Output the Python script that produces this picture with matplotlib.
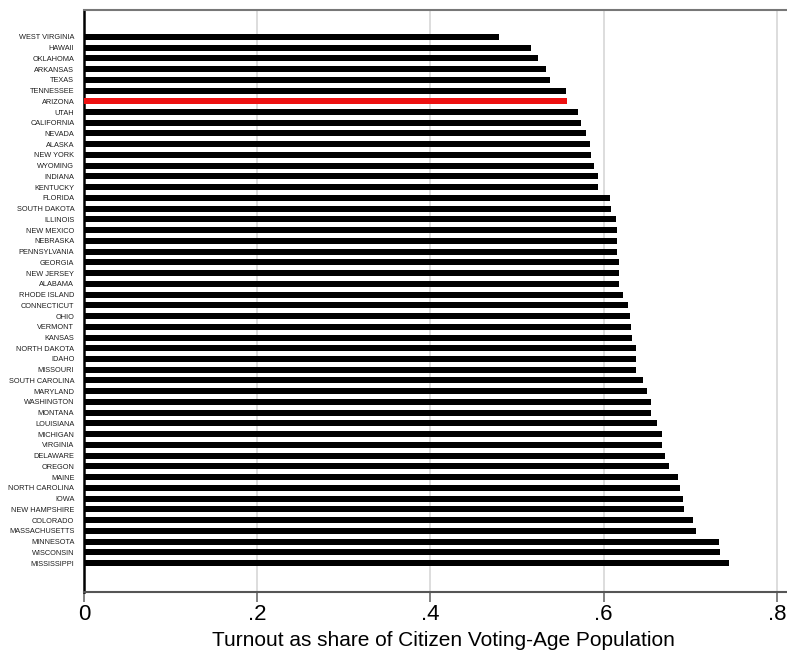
import matplotlib
matplotlib.use("Agg")
import matplotlib.pyplot as plt
import numpy as np

states = [
    "WEST VIRGINIA", "HAWAII", "OKLAHOMA", "ARKANSAS", "TEXAS", "TENNESSEE",
    "ARIZONA", "UTAH", "CALIFORNIA", "NEVADA", "ALASKA", "NEW YORK", "WYOMING",
    "INDIANA", "KENTUCKY", "FLORIDA", "SOUTH DAKOTA", "ILLINOIS", "NEW MEXICO",
    "NEBRASKA", "PENNSYLVANIA", "GEORGIA", "NEW JERSEY", "ALABAMA",
    "RHODE ISLAND", "CONNECTICUT", "OHIO", "VERMONT", "KANSAS", "NORTH DAKOTA",
    "IDAHO", "MISSOURI", "SOUTH CAROLINA", "MARYLAND", "WASHINGTON", "MONTANA",
    "LOUISIANA", "MICHIGAN", "VIRGINIA", "DELAWARE", "OREGON", "MAINE",
    "NORTH CAROLINA", "IOWA", "NEW HAMPSHIRE", "COLORADO", "MASSACHUSETTS",
    "MINNESOTA", "WISCONSIN", "MISSISSIPPI",
]
turnout = [
    0.479, 0.516, 0.524, 0.533, 0.538, 0.557,
    0.558, 0.570, 0.574, 0.580, 0.584, 0.586, 0.589,
    0.593, 0.593, 0.608, 0.609, 0.614, 0.616,
    0.616, 0.616, 0.618, 0.618, 0.618,
    0.623, 0.628, 0.630, 0.632, 0.633, 0.638,
    0.638, 0.638, 0.646, 0.650, 0.655, 0.655,
    0.662, 0.667, 0.668, 0.671, 0.675, 0.686,
    0.688, 0.692, 0.693, 0.703, 0.707,
    0.733, 0.735, 0.745,
]
highlight = "ARIZONA"
xticks = [0, 0.2, 0.4, 0.6, 0.8]
xticklabels = ["0", ".2", ".4", ".6", ".8"]
xlabel = "Turnout as share of Citizen Voting-Age Population"

font = ["Liberation Sans", "DejaVu Sans"]

fig = plt.figure(figsize=(7.87, 6.62), dpi=100)
ax = fig.add_axes([84 / 787, 70 / 662, 703 / 787 + 0.02, 582 / 662])

y = np.arange(len(states))
colors = ["#ee1111" if s == highlight else "black" for s in states]
ax.barh(y, turnout, height=0.56, color=colors, zorder=3)

ax.set_ylim(len(states) - 1 + 2.7, -2.5)
ax.set_xlim(0, 0.83)

ax.set_yticks(y)
ax.set_yticklabels(states, family=font, fontsize=5.3, color="#1e1e1e")
ax.tick_params(axis="y", length=0, pad=7)

ax.set_xticks(xticks)
ax.set_xticklabels(xticklabels, family=font, fontsize=16)
ax.tick_params(axis="x", length=7, width=1.3, color="#777777", pad=2)
ax.set_xlabel(xlabel, family=font, fontsize=15, labelpad=4)

ax.grid(axis="x", color="#dddddd", linewidth=1.4, zorder=0)
ax.set_axisbelow(True)

ax.spines["right"].set_visible(False)
ax.spines["left"].set_color("black")
ax.spines["left"].set_linewidth(1.8)
ax.spines["top"].set_color("#777777")
ax.spines["top"].set_linewidth(1.5)
ax.spines["bottom"].set_color("#555555")
ax.spines["bottom"].set_linewidth(1.5)

fig.savefig("out.png", dpi=100)
